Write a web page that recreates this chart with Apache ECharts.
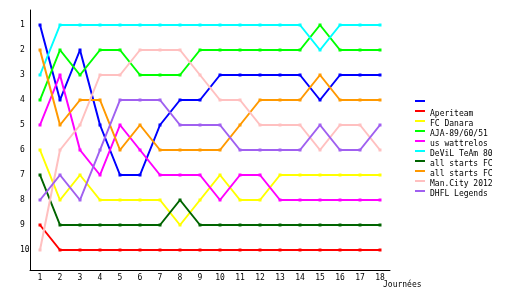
<!DOCTYPE html>
<html>
<head>
<meta charset="utf-8">
<script src="https://cdn.jsdelivr.net/npm/echarts@6/dist/echarts.min.js"></script>
<style>
  html, body { margin: 0; padding: 0; background: #fff; }
  #chart { width: 530px; height: 300px; }
</style>
</head>
<body>
<div id="chart"></div>
<script>
// journées 1..18
var journees = ['1','2','3','4','5','6','7','8','9','10','11','12','13','14','15','16','17','18'];
var rankTicks = [1, 2, 3, 4, 5, 6, 7, 8, 9, 10];

// classement de chaque équipe par journée
var equipe0     = [1, 4, 2, 5, 7, 7, 5, 4, 4, 3, 3, 3, 3, 3, 4, 3, 3, 3];
var aperiteam   = [9, 10, 10, 10, 10, 10, 10, 10, 10, 10, 10, 10, 10, 10, 10, 10, 10, 10];
var fcDanara    = [6, 8, 7, 8, 8, 8, 8, 9, 8, 7, 8, 8, 7, 7, 7, 7, 7, 7];
var aja         = [4, 2, 3, 2, 2, 3, 3, 3, 2, 2, 2, 2, 2, 2, 1, 2, 2, 2];
var wattrelos   = [5, 3, 6, 7, 5, 6, 7, 7, 7, 8, 7, 7, 8, 8, 8, 8, 8, 8];
var devil       = [3, 1, 1, 1, 1, 1, 1, 1, 1, 1, 1, 1, 1, 1, 2, 1, 1, 1];
var allStarts1  = [7, 9, 9, 9, 9, 9, 9, 8, 9, 9, 9, 9, 9, 9, 9, 9, 9, 9];
var allStarts2  = [2, 5, 4, 4, 6, 5, 6, 6, 6, 6, 5, 4, 4, 4, 3, 4, 4, 4];
var manCity     = [10, 6, 5, 3, 3, 2, 2, 2, 3, 4, 4, 5, 5, 5, 6, 5, 5, 6];
var dhfl        = [8, 7, 8, 6, 4, 4, 4, 5, 5, 5, 6, 6, 6, 6, 5, 6, 6, 5];

var equipes = [
    {name: ' ', data: equipe0, color: '#0000ff'},
    {name: 'Aperiteam', data: aperiteam, color: '#ff0000'},
    {name: 'FC Danara', data: fcDanara, color: '#ffff00'},
    {name: 'AJA-89/60/51', data: aja, color: '#00ff00'},
    {name: 'us wattrelos', data: wattrelos, color: '#ff00ff'},
    {name: 'DeViL TeAm 80', data: devil, color: '#00ffff'},
    {name: 'all starts FC', data: allStarts1, color: '#006400'},
    {name: 'all starts FC ', data: allStarts2, color: '#ff9900'},
    {name: 'Man.City 2012', data: manCity, color: '#ffc0c0'},
    {name: 'DHFL Legends', data: dhfl, color: '#a060f0'}
];

var police = 'DejaVu Sans Mono';

var series = [];
for (var i = 0; i < equipes.length; i++) {
    series.push({
        name: equipes[i].name,
        type: 'line',
        data: equipes[i].data,
        symbol: 'rect',
        symbolSize: 3,
        showSymbol: true,
        color: equipes[i].color,
        lineStyle: {width: 2, color: equipes[i].color},
        itemStyle: {color: equipes[i].color},
        emphasis: {disabled: true}
    });
}

var option = {
    animation: false,
    backgroundColor: '#fff',
    title: {
        text: 'Journées',
        left: 378,
        top: 276,
        textStyle: {fontFamily: police, fontSize: 8, fontWeight: 'normal', color: '#000'}
    },
    legend: {
        orient: 'vertical',
        left: 410,
        top: 95,
        itemWidth: 10,
        itemHeight: 8,
        itemGap: 2,
        icon: 'path://M0,0H10V2H0Z M0,8H0.01V8.01H0Z',
        textStyle: {fontFamily: police, fontSize: 8, lineHeight: 8, color: '#000'},
        data: equipes.map(function (e) { return e.name; })
    },
    grid: {
        left: 30,
        top: 10,
        width: 360,
        height: 260,
        containLabel: false
    },
    xAxis: {
        type: 'category',
        data: journees,
        boundaryGap: true,
        axisLine: {lineStyle: {color: '#000', width: 1}},
        axisTick: {show: false},
        axisLabel: {fontFamily: police, fontSize: 8, color: '#000', margin: 4, interval: 0},
        splitLine: {show: false}
    },
    yAxis: {
        type: 'value',
        inverse: true,
        min: 0.4,
        max: 10.8,
        axisLine: {show: true, lineStyle: {color: '#000', width: 1}},
        axisTick: {show: false},
        axisLabel: {
            fontFamily: police, fontSize: 8, color: '#000',
            align: 'left', margin: 10,
            customValues: rankTicks
        },
        splitLine: {show: false}
    },
    series: series
};

var myChart = echarts.init(document.getElementById('chart'));
myChart.setOption(option);
</script>
</body>
</html>
